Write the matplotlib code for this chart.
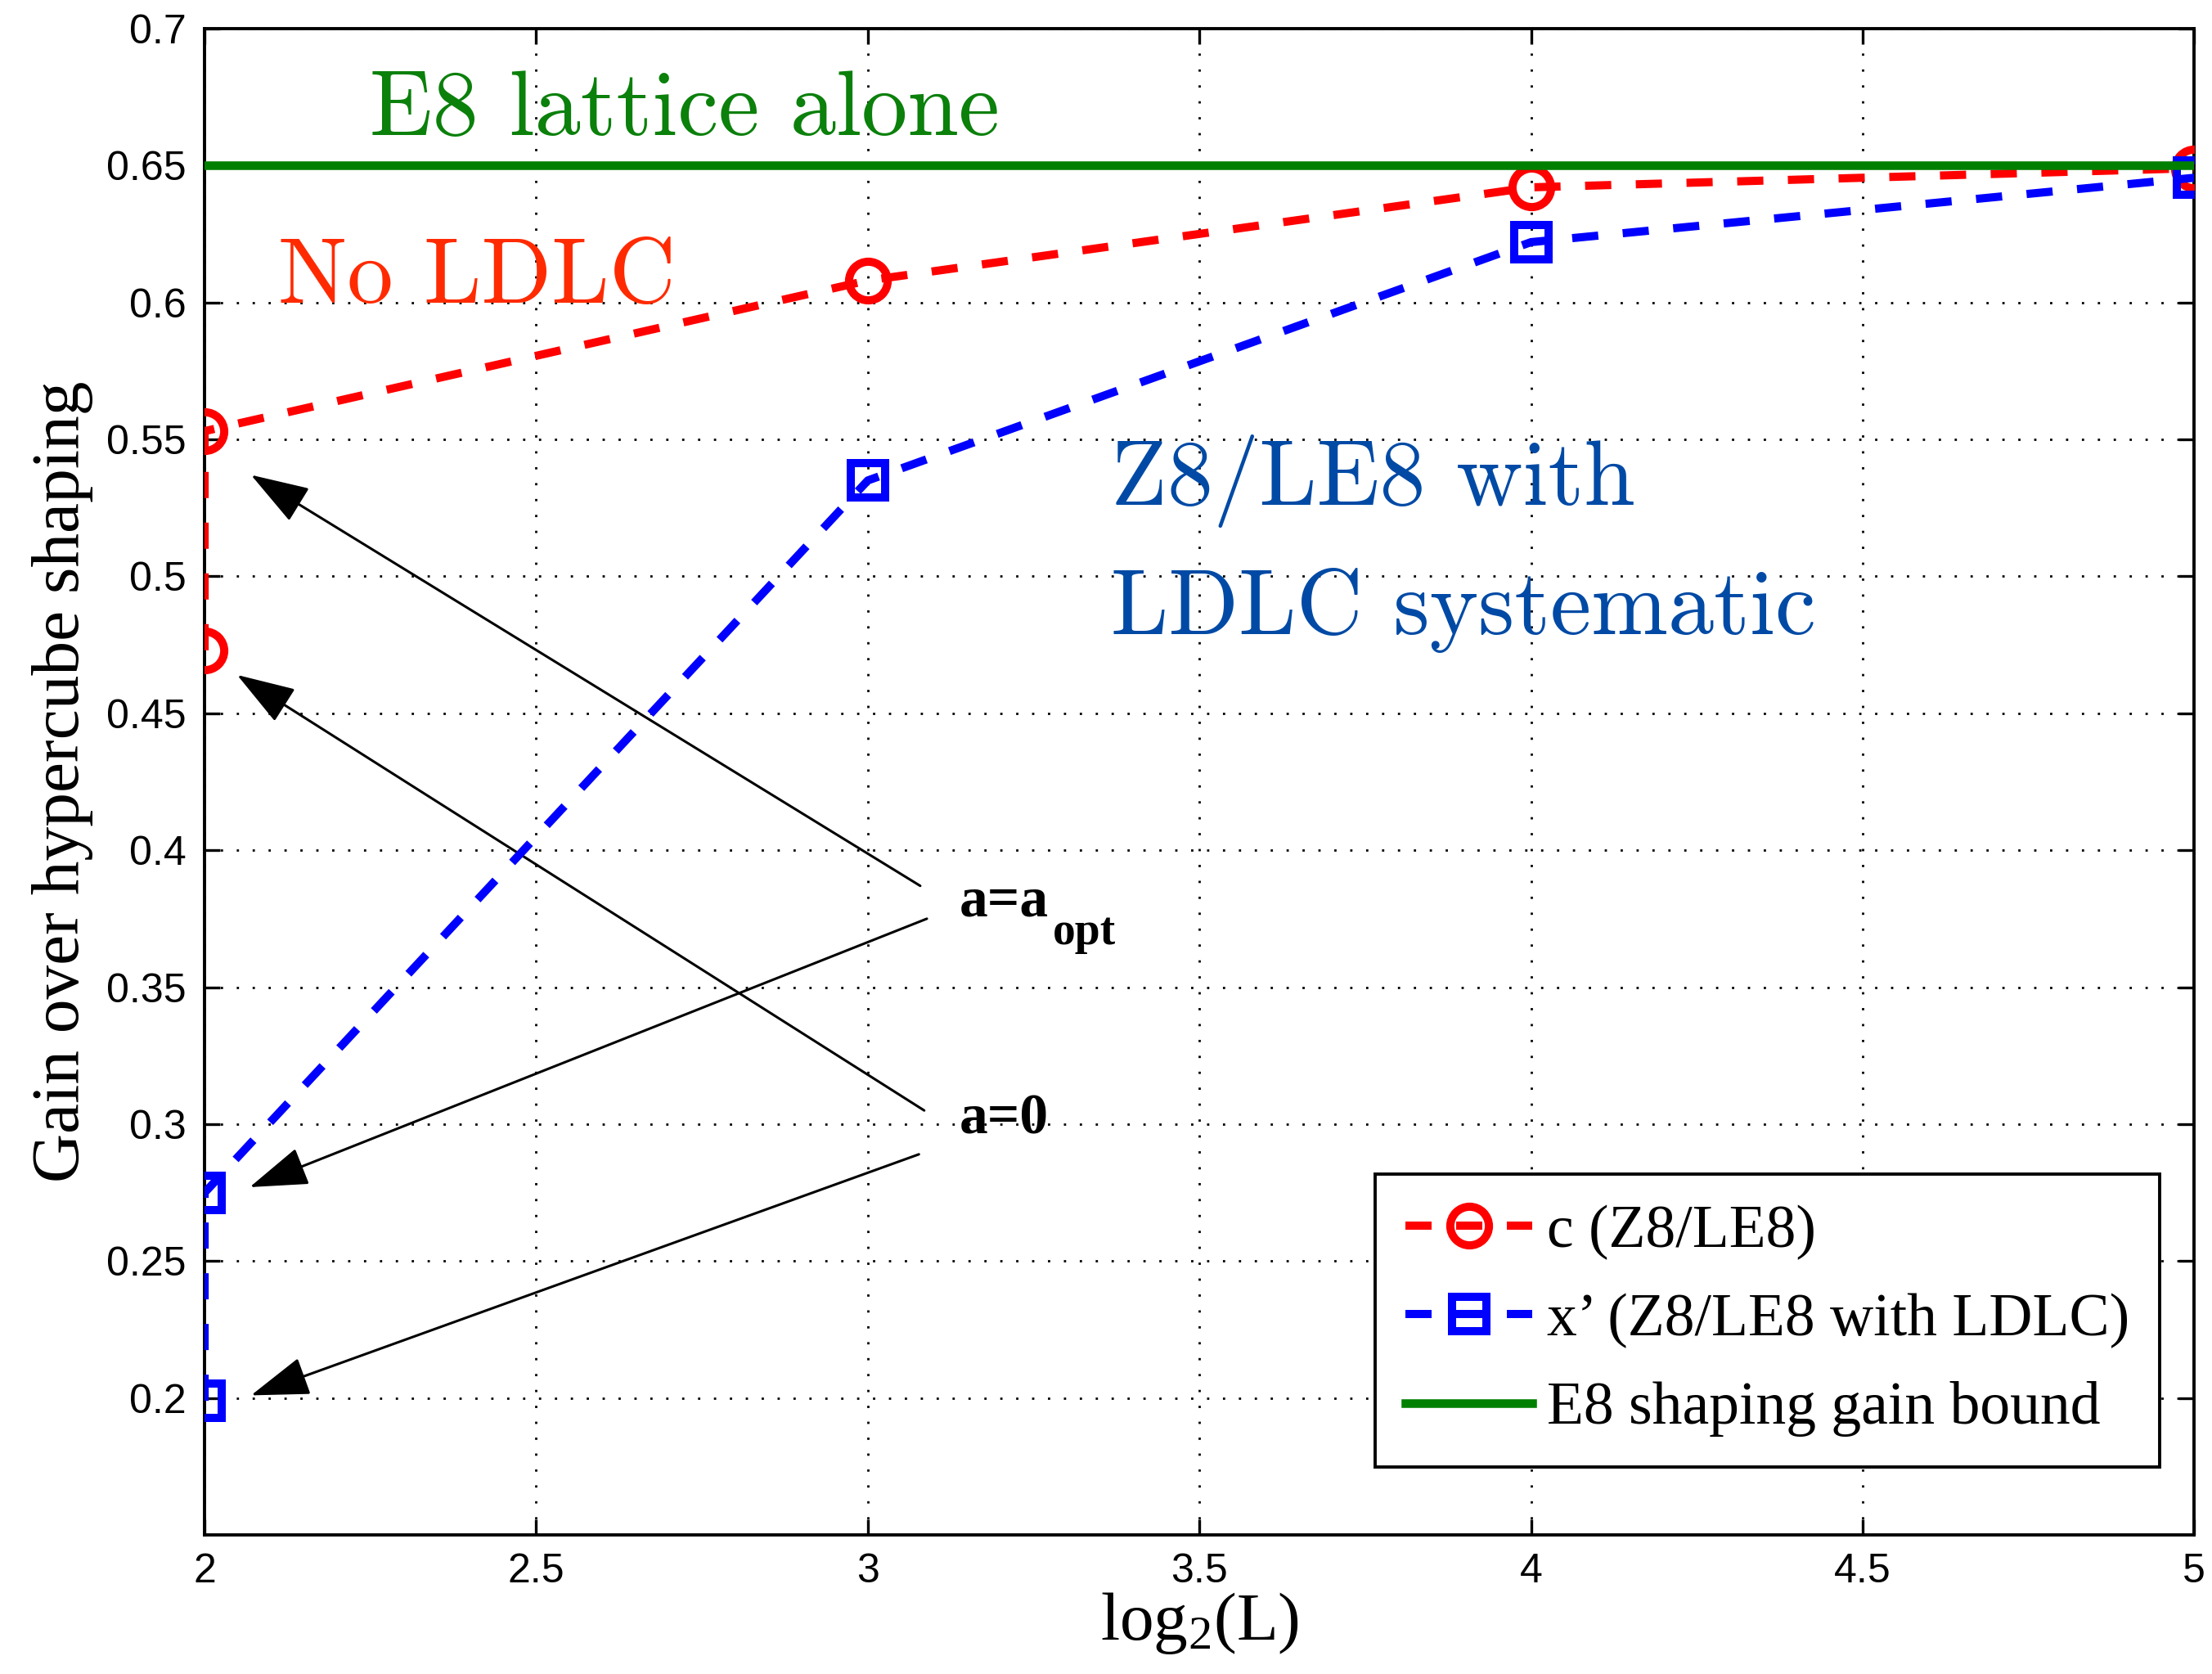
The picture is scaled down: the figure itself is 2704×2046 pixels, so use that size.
import matplotlib
matplotlib.use("Agg")
import matplotlib.pyplot as plt

# data
log2L = [2, 2, 3, 4, 5]
gain_c = [0.473, 0.553, 0.608, 0.642, 0.649]        # c (Z8/LE8)
gain_x = [0.199, 0.275, 0.535, 0.622, 0.6455]       # x' (Z8/LE8 with LDLC)
e8_bound = 0.65

xticks = [2, 2.5, 3, 3.5, 4, 4.5, 5]
yticks = [0.2, 0.25, 0.3, 0.35, 0.4, 0.45, 0.5, 0.55, 0.6, 0.65, 0.7]

SANS = "Liberation Sans"
SERIF = "Liberation Serif"

plt.rcParams["mathtext.fontset"] = "custom"
plt.rcParams["mathtext.rm"] = SERIF
plt.rcParams["mathtext.it"] = SERIF

fig = plt.figure(figsize=(13.52, 10.23), dpi=200)
ax = fig.add_axes([0.0925, 0.083, 0.8995, 0.9])

dash = (0, (3.2, 3.0))
ax.plot(log2L, gain_c, color="red", linestyle=dash, linewidth=3.6,
        marker="o", markersize=17, markerfacecolor="none",
        markeredgewidth=3.6, label="c (Z8/LE8)", zorder=3)
ax.plot(log2L, gain_x, color="blue", linestyle=dash, linewidth=3.6,
        marker="s", markersize=15, markerfacecolor="none",
        markeredgewidth=3.6, label="x\u2019 (Z8/LE8 with LDLC)", zorder=4)
ax.plot([2, 5], [e8_bound, e8_bound], color="#007f00", linewidth=3.8,
        label="E8 shaping gain bound", zorder=5)

ax.set_xlim(2, 5)
ax.set_ylim(0.15, 0.7)
ax.set_xticks(xticks)
ax.set_yticks(yticks)
ax.set_xticklabels([f"{t:g}" for t in xticks], fontfamily=SANS, fontsize=18)
ax.set_yticklabels([f"{t:g}" for t in yticks], fontfamily=SANS, fontsize=18)
ax.tick_params(direction="in", length=7, width=1.2, top=True, right=True, pad=8)
ax.grid(True, color="black", linestyle=(0, (1, 6)), linewidth=1.0)
for s in ax.spines.values():
    s.set_linewidth(1.4)

ax.set_xlabel(r"log$_2$(L)", fontfamily=SERIF, fontsize=30, labelpad=0)
ax.set_ylabel("Gain over hypercube shaping", fontfamily=SERIF, fontsize=30, labelpad=6)

# curve annotations
ax.text(2.249, 0.661, "E8 lattice alone", fontfamily="cmr10", fontsize=40.5,
        color="#0b800b", va="baseline")
ax.text(2.111, 0.600, "No LDLC", fontfamily="cmr10", fontsize=40.5,
        color="#ff2a00", va="baseline")
ax.text(3.366, 0.526, "Z8/LE8 with", fontfamily="cmr10", fontsize=40.5,
        color="#004aa5", va="baseline")
ax.text(3.366, 0.479, "LDLC systematic", fontfamily="cmr10", fontsize=40.5,
        color="#004aa5", va="baseline")

# arrows
aprops = dict(arrowstyle="-|>,head_length=0.9,head_width=0.3", color="black",
              lw=1.1, mutation_scale=25, shrinkA=0, shrinkB=0)
arrows = [((3.079, 0.387), (2.070, 0.537)),
          ((3.089, 0.375), (2.068, 0.277)),
          ((3.085, 0.305), (2.049, 0.464)),
          ((3.077, 0.289), (2.070, 0.201))]
for tail, head in arrows:
    ax.annotate("", xy=head, xytext=tail, arrowprops=aprops)

ax.text(3.138, 0.376, "a=a", fontfamily=SERIF, fontweight="bold", fontsize=25,
        va="baseline")
ax.text(3.279, 0.3656, "opt", fontfamily=SERIF, fontweight="bold", fontsize=20,
        va="baseline")
ax.text(3.138, 0.2967, "a=0", fontfamily=SERIF, fontweight="bold", fontsize=25,
        va="baseline")

leg = ax.legend(loc="lower right", bbox_to_anchor=(0.9827, 0.0451),
                borderaxespad=0, fancybox=False, framealpha=1,
                edgecolor="black", prop={"family": SERIF, "size": 26.5},
                handlelength=2.1, handletextpad=0.25, labelspacing=0.55,
                borderpad=0.5)
leg.get_frame().set_linewidth(1.4)

fig.savefig("out.png", dpi=200)
